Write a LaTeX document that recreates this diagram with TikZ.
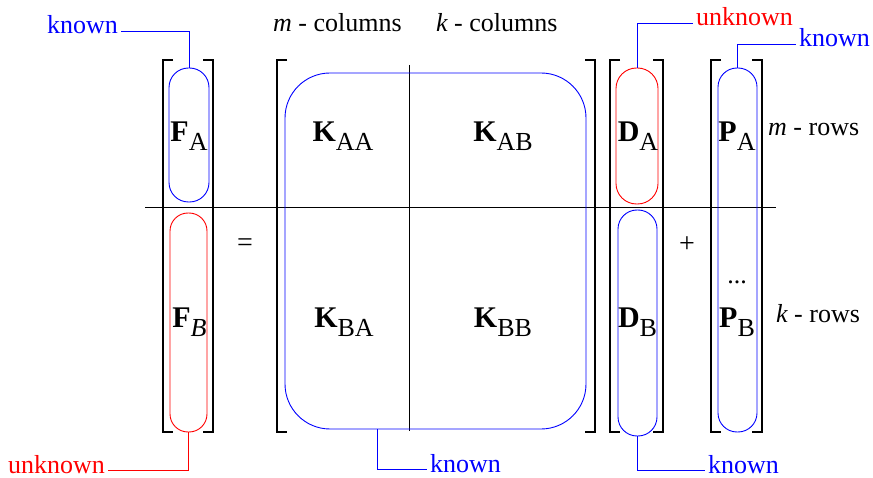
\documentclass[tikz,border=0pt]{standalone}
\usepackage{fontspec}
\setmainfont{Liberation Serif}
\usetikzlibrary{positioning,calc}
\definecolor{kncol}{RGB}{0,0,255}
\definecolor{uncol}{RGB}{255,0,0}

\begin{document}
\begin{tikzpicture}[x=1pt, y=-1pt,
  font=\fontsize{26}{30}\selectfont,
  mat/.style  = {inner sep=0pt, outer sep=0pt, minimum height=372pt},
  brk/.style  = {line width=1.8pt, line cap=butt},
  cap/.style  = {draw=#1, line width=0.9pt, inner sep=0pt, outer sep=0pt},
  ent/.style  = {inner sep=0pt, anchor=base},
  txt/.style  = {inner sep=0pt, anchor=base west},
  lbl/.style  = {text=#1, inner sep=0pt, inner xsep=3pt},
  lead/.style = {draw=#1, line width=0.8pt},
  sep/.style  = {line width=0.8pt}]
\newcommand{\blk}[2]{{\fontsize{30}{30}\selectfont\bfseries #1}%
  {\fontsize{26}{26}\selectfont\raisebox{-9pt}{#2}}}
\newcommand{\brackets}[1]{%
  \draw[brk] ([xshift=10pt]#1.north west) -- (#1.north west)
    -- (#1.south west) -- ([xshift=10pt]#1.south west);
  \draw[brk] ([xshift=-10pt]#1.north east) -- (#1.north east)
    -- (#1.south east) -- ([xshift=-10pt]#1.south east);}
\useasboundingbox (0,0) rectangle (873,478);

% bracket frames
\node[mat, minimum width=50pt] (F) at (188,246) {};
\node[mat, minimum width=318pt] (K) at (436,246) {};
\node[mat, minimum width=53pt] (D) at (636.5,246) {};
\node[mat, minimum width=51pt] (P) at (736.5,246) {};
\brackets{F} \brackets{K} \brackets{D} \brackets{P}

% partition lines
\draw[sep] (145,207) -- (776,207);
\draw[sep] (409,65) -- (409,431);

% capsules
\node[cap=kncol, minimum width=40pt, minimum height=134pt, rounded corners=19.5pt] (fa) at (189,135) {};
\node[cap=uncol, minimum width=37pt, minimum height=219pt, rounded corners=18pt] (fb) at (188.5,322.5) {};
\node[cap=kncol, minimum width=301pt, minimum height=356pt, rounded corners=45pt] (kbox) at (435.5,251) {};
\node[cap=uncol, minimum width=42pt, minimum height=136pt, rounded corners=20.5pt] (da) at (637,136) {};
\node[cap=kncol, minimum width=39pt, minimum height=226pt, rounded corners=19pt] (db) at (637.5,323) {};
\node[cap=kncol, minimum width=39pt, minimum height=364pt, rounded corners=19pt] (pp) at (737.5,250) {};

% entries
\node[ent] (tfa) at (189,142) {\blk{F}{A}};
\node[ent] (tfb) at (189.5,328) {\blk{F}{\itshape B}};
\node[ent] (tkaa) at (343,142) {\blk{K}{AA}};
\node[ent] (tkab) at (503,142) {\blk{K}{AB}};
\node[ent] (tkba) at (344,328) {\blk{K}{BA}};
\node[ent] (tkbb) at (503,328) {\blk{K}{BB}};
\node[ent] (tda) at (638,142) {\blk{D}{A}};
\node[ent] (tdb) at (637.5,328) {\blk{D}{B}};
\node[ent] (tpa) at (737,142) {\blk{P}{A}};
\node[ent] (tdots) at (737,284) {...};
\node[ent] (tpb) at (737,328) {\blk{P}{B}};
\node[inner sep=0pt, font=\fontsize{28}{30}\selectfont] (eq) at (245,245) {=};
\node[inner sep=0pt, font=\fontsize{28}{30}\selectfont] (plus) at (687,245) {+};

% sizes
\node[txt] (mcol) at (273,32) {\itshape m\upshape{} - columns};
\node[txt] (kcol) at (436,32) {\itshape k\upshape{} - columns};
\node[txt] (mrow) at (768,136) {\itshape m\upshape{} - rows};
\node[txt] (krow) at (776,323) {\itshape k\upshape{} - rows};

% known / unknown
\node[lbl=kncol, anchor=base east] (kfa) at (121,34) {known};
\node[lbl=uncol, anchor=base east] (ufb) at (108,473) {unknown};
\node[lbl=kncol, anchor=base west] (kk) at (427,472) {known};
\node[lbl=uncol, anchor=base west] (uda) at (693,26) {unknown};
\node[lbl=kncol, anchor=base west] (kp) at (796,47) {known};
\node[lbl=kncol, anchor=base west] (kdb) at (705,473) {known};

\draw[lead=kncol] (fa.north) |- (kfa.mid east);
\draw[lead=uncol] (fb.south) |- (ufb.mid east);
\draw[lead=kncol] ([xshift=-58.5pt]kbox.south) |- (kk.mid west);
\draw[lead=kncol] (da.north) |- (uda.mid west);
\draw[lead=kncol] (pp.north) |- (kp.mid west);
\draw[lead=kncol] (db.south) |- (kdb.mid west);
\end{tikzpicture}
\end{document}
